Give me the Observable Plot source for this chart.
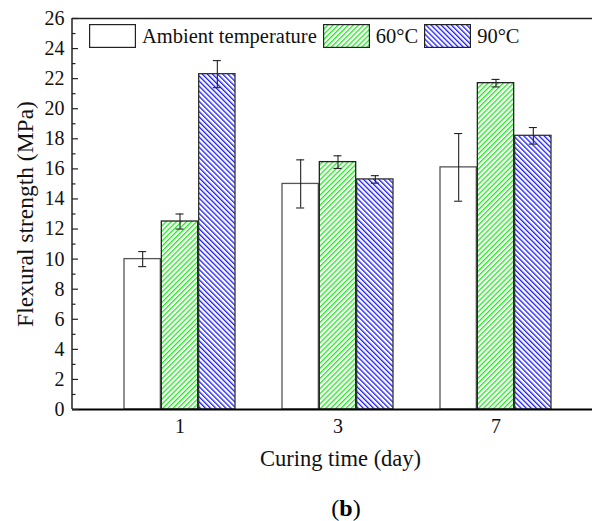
<!DOCTYPE html>
<html>
<head>
<meta charset="utf-8">
<script src="https://cdn.jsdelivr.net/npm/d3@7"></script>
<script src="https://cdn.jsdelivr.net/npm/@observablehq/plot@0.6"></script>
<style>
  html, body { margin: 0; padding: 0; background: #fff; }
  #wrap { position: relative; width: 592px; height: 521px; font-family: "Liberation Serif", "Times New Roman", serif; }
  #chart svg text { font-family: "Liberation Serif", "Times New Roman", serif; }
  #legend { position: absolute; left: 89px; top: 24px; display: flex; align-items: center; font-size: 20.5px; color: #111; }
  #legend .item { display: flex; align-items: center; margin-right: 6px; }
  #legend svg { display: block; margin-right: 6px; }
  #cap { position: absolute; left: 0; width: 592px; top: 495px; text-align: center; font-size: 24px; font-family: "Liberation Serif", serif; padding-left: 100px; box-sizing: border-box; line-height: 26px; }
</style>
</head>
<body>
<svg width="0" height="0" style="position:absolute">
  <defs>
    <pattern id="hatchGreen" patternUnits="userSpaceOnUse" width="3.6" height="3.6" patternTransform="rotate(45)">
      <rect width="3.6" height="3.6" fill="#fff"/>
      <rect width="1.3" height="3.6" fill="#22e622"/>
    </pattern>
    <pattern id="hatchBlue" patternUnits="userSpaceOnUse" width="3.6" height="3.6" patternTransform="rotate(-45)">
      <rect width="3.6" height="3.6" fill="#fff"/>
      <rect width="1.3" height="3.6" fill="#1a1aff"/>
    </pattern>
  </defs>
</svg>
<div id="wrap">
  <div id="chart"></div>
  <div id="legend"></div>
  <div id="cap">(<b>b</b>)</div>
</div>
<script>
// ---- data ----
const days = ["1", "3", "7"];
const seriesNames = ["Ambient temperature", "60°C", "90°C"];
const ambient = [10.0, 15.0, 16.1];
const ambientErr = [0.5, 1.6, 2.25];
const c60 = [12.5, 16.45, 21.7];
const c60Err = [0.5, 0.42, 0.25];
const c90 = [22.3, 15.3, 18.2];
const c90Err = [0.9, 0.25, 0.55];
const yTicks = [0, 2, 4, 6, 8, 10, 12, 14, 16, 18, 20, 22, 24, 26];
const yMinor = [1, 3, 5, 7, 9, 11, 13, 15, 17, 19, 21, 23, 25];

const serif = "'Liberation Serif', 'Times New Roman', serif";
const fills = ["#ffffff", "url(#hatchGreen)", "url(#hatchBlue)"];
const strokes = ["#555", "#222", "#333"];
const values = [ambient, c60, c90];
const errs = [ambientErr, c60Err, c90Err];

const rows = [];
values.forEach((vals, s) => vals.forEach((v, i) => rows.push({day: days[i], s, value: v, err: errs[s][i]})));

const W = 592, H = 490;
const bw = 37.33; // width of one bar in px (style)
const groupW = 3 * bw;

const marks = [];
for (let s = 0; s < 3; s++) {
  const data = rows.filter(d => d.s === s);
  marks.push(Plot.barY(data, {
    x: "day", y: "value",
    insetLeft: s * bw, insetRight: (2 - s) * bw,
    fill: fills[s], stroke: strokes[s], strokeWidth: 1.3
  }));
}
for (let s = 0; s < 3; s++) {
  const data = rows.filter(d => d.s === s);
  const dx = (s - 1) * bw;
  const cap = (groupW - 9) / 2;
  marks.push(Plot.ruleX(data, {x: "day", y1: d => d.value - d.err, y2: d => d.value + d.err, dx, stroke: "#222", strokeWidth: 1.1}));
  marks.push(Plot.tickY(data, {x: "day", y: d => d.value + d.err, dx, insetLeft: cap, insetRight: cap, stroke: "#222", strokeWidth: 1.1}));
  marks.push(Plot.tickY(data, {x: "day", y: d => d.value - d.err, dx, insetLeft: cap, insetRight: cap, stroke: "#222", strokeWidth: 1.1}));
}

const chart = Plot.plot({
  width: W, height: H,
  marginLeft: 72, marginRight: 0, marginTop: 18, marginBottom: H - 409,
  style: {fontFamily: serif, fontSize: "20px", color: "#111", background: "#fff"},
  x: {domain: days, paddingInner: 0.2947, paddingOuter: 0.2846, align: 0.564, axis: null, label: null},
  y: {domain: [0, 26], axis: null, label: null},
  marks: [
    ...marks,
    Plot.ruleY([0], {stroke: "#000", strokeWidth: 2}),
    Plot.ruleY([26], {stroke: "#222", strokeWidth: 1.3}),
    Plot.axisY({ticks: yTicks, tickSize: 6, dx: 6, tickFormat: () => "", label: null, stroke: "#222", strokeWidth: 1.2}),
    Plot.axisY({ticks: yMinor, tickSize: 3.5, dx: 3.5, tickFormat: () => "", label: null, stroke: "#222", strokeWidth: 1.2}),
    Plot.axisY({ticks: yTicks, tickSize: 0, tickPadding: 8, fontSize: 20, fontFamily: serif, label: null}),
    Plot.axisX({tickSize: 0, tickPadding: 9, fontSize: 20, fontFamily: serif, label: null}),
    Plot.text(["Flexural strength (MPa)"], {frameAnchor: "left", textAnchor: "middle", dx: -47, rotate: -90, fontSize: 23.5, fontFamily: serif, fill: "#111"}),
    Plot.text(["Curing time (day)"], {frameAnchor: "bottom", dy: 56, dx: 8, fontSize: 22.5, fontFamily: serif, fill: "#111"})
  ]
});
document.getElementById("chart").appendChild(chart);

// left axis line, from the y scale
const y = chart.scale("y");
d3.select(chart).append("line")
  .attr("x1", 72).attr("x2", 72)
  .attr("y1", y.apply(0)).attr("y2", y.apply(26))
  .attr("stroke", "#222").attr("stroke-width", 1.5);

// legend
const legend = d3.select("#legend");
seriesNames.forEach((name, s) => {
  const item = legend.append("div").attr("class", "item");
  const sv = item.append("svg").attr("width", 47).attr("height", 24);
  sv.append("rect").attr("x", 0.6).attr("y", 0.6).attr("width", 45.8).attr("height", 22.8)
    .attr("fill", fills[s]).attr("stroke", "#222").attr("stroke-width", 1.2);
  item.append("span").text(name);
});
</script>
</body>
</html>
